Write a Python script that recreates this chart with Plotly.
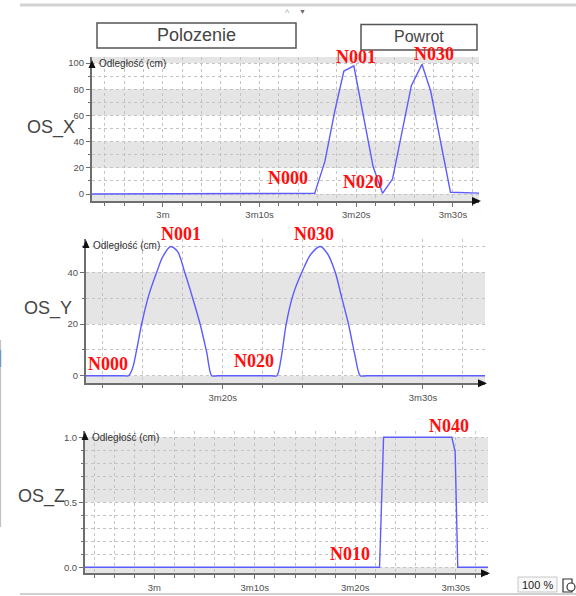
import plotly.graph_objects as go

W, H = 576, 596

# ---------------- data ----------------
# time in seconds (3m = 180 s)
t_x = [172.0, 195.7, 196.75, 197.8, 198.72, 199.75, 201.75, 202.72, 203.75,
       205.7, 206.8, 207.7, 209.75, 213.5]
v_x = [0.0, 0.5, 24.7, 64.0, 93.9, 97.9, 20.8, 0.5, 11.4,
       82.7, 99.0, 78.6, 1.3, 0.5]

t_y = [192.5, 195.0, 195.3, 195.5, 195.7, 195.95, 196.3, 196.7, 197.0, 197.4, 197.75,
       198.1, 198.5, 198.87, 199.2, 199.45, 199.75, 202.4, 202.7, 202.9, 203.17, 203.5,
       203.95, 204.4, 204.87, 205.25, 205.62, 205.95, 206.28, 206.6, 206.87, 207.2, 213.5]
v_y = [0.0, 0.0, 0.0, 3.0, 10.0, 20.0, 31.0, 40.0, 46.0, 50.0, 48.0,
       40.0, 30.0, 20.0, 9.0, 0.0, 0.0, 0.0, 0.0, 6.0, 20.0, 31.0,
       40.0, 47.0, 50.0, 47.0, 40.0, 30.0, 20.0, 8.0, 0.0, 0.0, 0.0]

t_z = [172.0, 202.41, 202.81, 209.6, 209.93, 210.19, 214.0]
v_z = [0.0, 0.0, 1.0, 1.0, 0.89, 0.0, 0.0]

time_tick_vals = [180, 190, 200, 210]
time_tick_text = ["3m", "3m10s", "3m20s", "3m30s"]

y_tick_vals_x = [0, 20, 40, 60, 80, 100]
y_tick_vals_y = [0, 20, 40]
y_tick_vals_z = [0.0, 0.5, 1.0]
y_tick_text_z = ["0.0", "0.5", "1.0"]

axis_names = ["OS_X", "OS_Y", "OS_Z"]
y_unit = "Odległość (cm)"
button_labels = ["Polozenie", "Powrot"]
zoom_label = "100 %"

labels_x = ["N000", "N001", "N020", "N030"]
labels_y = ["N000", "N001", "N020", "N030"]
labels_z = ["N010", "N040"]

# ---------------- helpers ----------------
def px(x):
    return x / W

def py(y):
    return 1 - y / H

LINE = "#5c5cff"
AX = "#6e6e6e"
GRID = "#c4c4c4"
BAND = "#e5e5e5"
TXT = "#505050"

panels = [
    dict(t=t_x, v=v_x, xd=(92, 479), yd=(57, 201), xr=(172.66, 212.7), yr=(-5.34, 104.6),
         yt=y_tick_vals_x, ytt=[str(v) for v in y_tick_vals_x], ystep=20, yminor=10),
    dict(t=t_y, v=v_y, xd=(86, 485), yd=(239, 383.3), xr=(193.17, 213.1), yr=(-2.94, 52.9),
         yt=y_tick_vals_y, ytt=[str(v) for v in y_tick_vals_y], ystep=20, yminor=10),
    dict(t=t_z, v=v_z, xd=(85, 488), yd=(431, 573.3), xr=(173.1, 213.2), yr=(-0.046, 1.048),
         yt=y_tick_vals_z, ytt=y_tick_text_z, ystep=0.5, yminor=0.1),
]

fig = go.Figure()
shapes = []
annotations = []

tick_font = dict(family="Liberation Sans, Arial", size=9.5, color=TXT)

for i, p in enumerate(panels):
    n = "" if i == 0 else str(i + 1)
    xa, ya = "x" + n, "y" + n
    fig.add_trace(go.Scatter(
        x=p["t"], y=p["v"], mode="lines", xaxis=xa, yaxis=ya,
        line=dict(color=LINE, width=1.4, shape="spline" if i == 1 else "linear",
                  smoothing=0.8),
        hoverinfo="skip", showlegend=False))

    xdom = [px(p["xd"][0]), px(p["xd"][1])]
    ydom = [py(p["yd"][1]), py(p["yd"][0])]
    fig.layout["xaxis" + n] = dict(
        domain=xdom, anchor=ya, range=list(p["xr"]),
        tickmode="array", tickvals=time_tick_vals, ticktext=time_tick_text,
        ticks="outside", ticklen=4, tickcolor=AX, tickfont=tick_font,
        showline=True, linecolor=AX, linewidth=2,
        showgrid=True, gridcolor=GRID, griddash="dot", gridwidth=1,
        zeroline=False, fixedrange=True,
        minor=dict(tickmode="linear", tick0=180, dtick=2, ticks="outside", ticklen=3,
                   tickcolor=AX, showgrid=True, gridcolor=GRID, griddash="dot", gridwidth=1),
    )
    fig.layout["yaxis" + n] = dict(
        domain=ydom, anchor=xa, range=list(p["yr"]),
        tickmode="array", tickvals=p["yt"], ticktext=p["ytt"],
        ticks="outside", ticklen=4, tickcolor=AX, tickfont=tick_font,
        showline=True, linecolor=AX, linewidth=2,
        showgrid=True, gridcolor=GRID, griddash="dot", gridwidth=1,
        zeroline=False, fixedrange=True,
        minor=dict(tickmode="linear", tick0=0, dtick=p["yminor"], ticks="outside", ticklen=2,
                   tickcolor=AX, showgrid=True, gridcolor=GRID, griddash="dot", gridwidth=1),
    )

    # alternating gray bands
    step = p["ystep"]
    k = -1
    while k * step < p["yr"][1]:
        if k % 2 != 0:
            y0 = max(k * step, p["yr"][0])
            y1 = min((k + 1) * step, p["yr"][1])
            shapes.append(dict(type="rect", xref=xa + " domain", yref=ya, x0=0, x1=1,
                               y0=y0, y1=y1, fillcolor=BAND, line=dict(width=0), layer="below"))
        k += 1

    # axis arrows
    tx, ty = p["xd"][1] + 2, p["yd"][1]
    shapes.append(dict(type="path", xref="paper", yref="paper",
                       path=f"M {px(tx)} {py(ty)} L {px(tx-9)} {py(ty-4)} L {px(tx-9)} {py(ty+4)} Z",
                       fillcolor="#111", line=dict(width=0)))
    ux, uy = p["xd"][0], p["yd"][0] + (3 if i == 0 else 1)
    shapes.append(dict(type="path", xref="paper", yref="paper",
                       path=f"M {px(ux)} {py(uy)} L {px(ux-3.5)} {py(uy+8)} L {px(ux+3.5)} {py(uy+8)} Z",
                       fillcolor="#111", line=dict(width=0)))

    # unit label
    annotations.append(dict(text=y_unit, xref="paper", yref="paper",
                            x=px(p["xd"][0] + 5), y=py(p["yd"][0] + (6.5 if i == 0 else 6)),
                            xanchor="left", yanchor="middle", showarrow=False,
                            font=dict(family="Liberation Sans, Arial", size=10, color="#333")))

# channel names
for name, (cx, cy) in zip(axis_names, [(51, 127), (48, 308), (41, 496)]):
    annotations.append(dict(text=name, xref="paper", yref="paper", x=px(cx), y=py(cy),
                            xanchor="center", yanchor="middle", showarrow=False,
                            font=dict(family="Liberation Sans, Arial", size=18, color="#444")))

# red node labels
red_font = dict(family="Liberation Serif, Times New Roman", size=18, color="#ff1010")
label_pos = [
    (labels_x, [(287.5, 178), (356, 57), (362.5, 181.5), (433.5, 54)]),
    (labels_y, [(107.5, 364), (180.5, 234), (254, 361), (314, 233.5)]),
    (labels_z, [(350, 554), (448.5, 426)]),
]
for labs, poss in label_pos:
    for lab, (cx, cy) in zip(labs, poss):
        annotations.append(dict(text=f"<b>{lab}</b>", xref="paper", yref="paper",
                                x=px(cx), y=py(cy), xanchor="center", yanchor="middle",
                                showarrow=False, font=red_font))

# buttons on top
for lab, (x0, y0, x1, y1), fs in zip(button_labels,
                                     [(97, 23, 296, 48), (361, 24.5, 477, 50)],
                                     [18, 16]):
    shapes.append(dict(type="rect", xref="paper", yref="paper",
                       x0=px(x0), x1=px(x1), y0=py(y1), y1=py(y0),
                       line=dict(color="#555", width=1.5), fillcolor="white"))
    annotations.append(dict(text=lab, xref="paper", yref="paper",
                            x=px((x0 + x1) / 2), y=py((y0 + y1) / 2 - 0.5),
                            xanchor="center", yanchor="middle", showarrow=False,
                            font=dict(family="Liberation Sans, Arial", size=fs, color="#444")))

# window chrome: top separator, left edge, bottom bar
shapes.append(dict(type="line", xref="paper", yref="paper", x0=px(20), x1=px(576),
                   y0=py(5), y1=py(5), line=dict(color="#d2d2d2", width=3)))
annotations.append(dict(text="^", xref="paper", yref="paper", x=px(287), y=py(6),
                        showarrow=False, font=dict(size=9, color="#aaa")))
annotations.append(dict(text="▼", xref="paper", yref="paper", x=px(302), y=py(6),
                        showarrow=False, font=dict(size=7, color="#666")))
shapes.append(dict(type="line", xref="paper", yref="paper", x0=px(0.6), x1=px(0.6),
                   y0=py(527), y1=py(340), line=dict(color="#bbb", width=1)))
shapes.append(dict(type="line", xref="paper", yref="paper", x0=px(0.6), x1=px(0.6),
                   y0=py(367), y1=py(350), line=dict(color="#6a9ad0", width=1.2)))
shapes.append(dict(type="line", xref="paper", yref="paper", x0=px(20), x1=px(576),
                   y0=py(594), y1=py(594), line=dict(color="#d0d0d0", width=2)))

# zoom box and icon bottom right
shapes.append(dict(type="rect", xref="paper", yref="paper", x0=px(518), x1=px(557),
                   y0=py(592), y1=py(577), line=dict(color="#c8c8c8", width=1), fillcolor="#f8f8f8"))
annotations.append(dict(text=zoom_label, xref="paper", yref="paper", x=px(537.5), y=py(585),
                        showarrow=False, xanchor="center", yanchor="middle",
                        font=dict(family="Liberation Sans, Arial", size=11, color="#222")))
shapes.append(dict(type="rect", xref="paper", yref="paper", x0=px(563), x1=px(572),
                   y0=py(592), y1=py(579), line=dict(color="#333", width=1.2), fillcolor="white"))
shapes.append(dict(type="circle", xref="paper", yref="paper", x0=px(567), x1=px(575),
                   y0=py(591), y1=py(583), line=dict(color="#333", width=1.2), fillcolor="white"))

fig.update_layout(
    width=W, height=H, margin=dict(l=0, r=0, t=0, b=0),
    paper_bgcolor="white", plot_bgcolor="white",
    showlegend=False, shapes=shapes, annotations=annotations,
    font=dict(family="Liberation Sans, Arial"),
)

fig.write_html("out.html", config={"displayModeBar": False},
               post_script="document.body.style.margin='0px';document.body.style.overflow='hidden';")
